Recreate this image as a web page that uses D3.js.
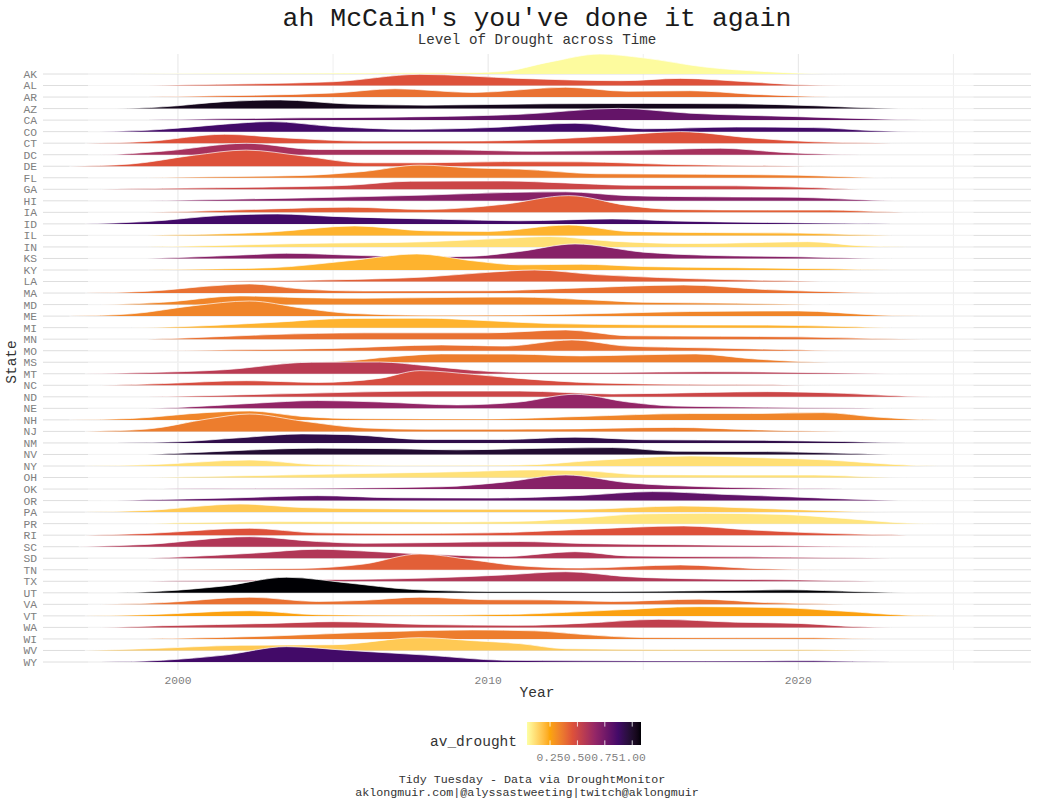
<!DOCTYPE html>
<html>
<head>
<meta charset="utf-8">
<title>ah McCain's you've done it again</title>
<script src="https://cdn.jsdelivr.net/npm/d3@7"></script>
<style>
body { margin: 0; background: #fff; }
svg text { font-family: "Liberation Mono", "Courier New", monospace; }
.tick-y, .tick-x { fill: #808080; font-size: 11.3px; }
.axis-title { fill: #333; font-size: 14.5px; }
.ridge { stroke: #fff; stroke-width: 0.8px; }
</style>
</head>
<body>
<svg id="chart" width="1037" height="805"></svg>
<script>
// states, top to bottom
var states = ["AK","AL","AR","AZ","CA","CO","CT","DC","DE","FL","GA","HI","IA","ID","IL","IN",
  "KS","KY","LA","MA","MD","ME","MI","MN","MO","MS","MT","NC","ND","NE","NH","NJ","NM","NV",
  "NY","OH","OK","OR","PA","PR","RI","SC","SD","TN","TX","UT","VA","VT","WA","WI","WV","WY"];

// average drought level per state (fill colour)
var avDrought = [0.05,0.456,0.383,1.038,0.789,0.872,0.456,0.612,0.456,0.352,0.508,0.695,0.425,0.872,0.217,0.115,
  0.695,0.217,0.425,0.383,0.331,0.331,0.217,0.383,0.383,0.352,0.56,0.477,0.508,0.664,0.331,0.352,0.934,0.986,
  0.115,0.11,0.695,0.799,0.165,0.10,0.456,0.581,0.581,0.425,0.581,1.08,0.383,0.258,0.539,0.352,0.165,0.872];

// ridge outline: [year, height in rows]
var ridgeKnots = [
  /*AK*/ [[1998.5,0],[2000,0.05],[2009,0.1],[2010.4,0.2],[2012,1.05],[2013.6,1.73],[2015,1.4],[2017,0.6],[2019,0.2],[2021.5,0]],
  /*AL*/ [[1999,0],[2000,0.05],[2005,0.33],[2007.8,0.97],[2011,0.62],[2014.3,0.42],[2016.2,0.62],[2018.5,0.3],[2020,0.07],[2021.5,0]],
  /*AR*/ [[1999,0],[2000,0.05],[2005,0.35],[2007,0.72],[2009.5,0.4],[2012.5,0.85],[2014.5,0.5],[2016.5,0.55],[2018.5,0.25],[2020.5,0.05],[2021.5,0]],
  /*AZ*/ [[1998,0],[1999.5,0.15],[2001.5,0.6],[2003.3,0.75],[2005.5,0.4],[2008,0.3],[2012,0.42],[2015,0.45],[2018,0.42],[2020.5,0.25],[2022.5,0.05],[2024,0]],
  /*CA*/ [[1999,0],[2000,0.05],[2004,0.2],[2008,0.3],[2011,0.5],[2014.2,1.02],[2016.5,0.6],[2020,0.3],[2022.5,0.1],[2024.5,0]],
  /*CO*/ [[1997.5,0],[1999.5,0.2],[2001.5,0.65],[2003,0.87],[2005,0.45],[2007.5,0.2],[2010,0.35],[2012.8,0.73],[2015,0.25],[2018,0.4],[2020.5,0.35],[2022.5,0.08],[2024,0]],
  /*CT*/ [[1997,0],[1999,0.15],[2001.5,0.77],[2003.5,0.45],[2006,0.18],[2009,0.18],[2012,0.35],[2014,0.65],[2016.2,1.0],[2018.5,0.45],[2020.5,0.12],[2022.5,0.02],[2023.5,0]],
  /*DC*/ [[1997.5,0],[1999.5,0.3],[2002.2,0.99],[2004.5,0.45],[2008,0.45],[2011.5,0.3],[2015,0.4],[2017.5,0.56],[2019.5,0.2],[2021,0.04],[2022,0]],
  /*DE*/ [[1996.5,0],[1998.5,0.2],[2000.5,0.95],[2002.2,1.4],[2004,0.9],[2006,0.3],[2008,0.3],[2010.5,0.4],[2013,0.38],[2016,0.15],[2019,0.05],[2021.5,0]],
  /*FL*/ [[1999,0],[2000,0.05],[2004,0.2],[2006,0.55],[2007.8,1.1],[2009.5,0.85],[2011,0.75],[2013.5,0.35],[2017,0.3],[2020,0.22],[2022,0.05],[2023,0]],
  /*GA*/ [[1997.5,0],[1999.5,0.08],[2003,0.2],[2005.5,0.35],[2007.5,0.7],[2010.5,0.72],[2012.5,0.55],[2014.5,0.35],[2018,0.3],[2020.5,0.15],[2022,0]],
  /*HI*/ [[1999,0],[2000,0.05],[2004,0.25],[2008,0.5],[2011,0.75],[2012.5,0.78],[2014.5,0.45],[2017,0.35],[2020,0.3],[2022,0.1],[2023.5,0]],
  /*IA*/ [[1999,0],[2000,0.05],[2003,0.3],[2005.5,0.45],[2008,0.25],[2010.5,0.7],[2012.6,1.45],[2014.5,0.6],[2016,0.25],[2019,0.2],[2021,0.2],[2022.8,0.05],[2024,0]],
  /*ID*/ [[1997,0],[1999,0.2],[2001.5,0.75],[2003.2,0.86],[2005,0.65],[2008.5,0.4],[2011,0.27],[2014,0.43],[2016,0.25],[2019,0.12],[2021.5,0.05],[2023,0]],
  /*IL*/ [[1999,0],[2000,0.05],[2003,0.3],[2005.7,0.82],[2008,0.4],[2010,0.35],[2012.6,0.9],[2014.5,0.35],[2017,0.25],[2020,0.2],[2022,0.05],[2023,0]],
  /*IN*/ [[1999,0],[2000,0.05],[2004,0.3],[2008,0.45],[2010.5,0.75],[2012,0.9],[2014,0.5],[2016.5,0.3],[2019,0.4],[2020.3,0.46],[2022,0.1],[2023.5,0]],
  /*KS*/ [[1999,0],[2000,0.08],[2002.5,0.35],[2003.5,0.45],[2006,0.25],[2008,0.15],[2009.5,0.2],[2011,0.6],[2012.8,1.26],[2015,0.55],[2017,0.28],[2020,0.15],[2022,0.03],[2023,0]],
  /*KY*/ [[1999,0],[2000,0.05],[2003,0.2],[2005.5,0.8],[2007.7,1.39],[2009.5,0.8],[2011,0.45],[2013,0.5],[2015,0.3],[2018,0.2],[2021,0.1],[2023,0]],
  /*LA*/ [[1999.5,0],[2001,0.03],[2005,0.15],[2008,0.4],[2010,0.8],[2011.5,1.0],[2013.5,0.6],[2015.5,0.35],[2018,0.15],[2020,0.05],[2021.5,0]],
  /*MA*/ [[1997,0],[1999,0.15],[2001.5,0.7],[2002.3,0.79],[2004,0.35],[2006,0.18],[2010,0.2],[2012.5,0.4],[2016.3,0.7],[2019,0.3],[2021.5,0.08],[2023.5,0]],
  /*MD*/ [[1997.5,0],[1999.5,0.2],[2002,0.75],[2004,0.6],[2006,0.55],[2009,0.63],[2011,0.65],[2013,0.45],[2015,0.2],[2018,0.12],[2020,0.03],[2021,0]],
  /*ME*/ [[1996.5,0],[1998.5,0.2],[2000.5,0.9],[2002.3,1.31],[2004,0.7],[2005.5,0.25],[2008,0.08],[2011,0.1],[2014,0.25],[2016.5,0.4],[2020,0.45],[2022.5,0.1],[2024,0]],
  /*MI*/ [[1998.5,0],[2000,0.08],[2003,0.45],[2005.5,0.8],[2008,0.82],[2010,0.6],[2012,0.35],[2015,0.25],[2019,0.22],[2021.5,0.1],[2023,0]],
  /*MN*/ [[1999,0],[2000,0.08],[2003,0.4],[2006,0.55],[2010,0.55],[2012.5,0.8],[2014.5,0.3],[2017.5,0.25],[2020,0.2],[2022.5,0.05],[2024,0]],
  /*MO*/ [[1999.5,0],[2001,0.05],[2005,0.2],[2008.5,0.5],[2010.5,0.4],[2012.7,0.93],[2014.5,0.4],[2017,0.25],[2019.5,0.1],[2021.5,0]],
  /*MS*/ [[2003.5,0],[2005,0.05],[2007,0.5],[2008.5,0.72],[2011,0.7],[2013,0.55],[2015,0.65],[2016.7,0.72],[2018.5,0.3],[2020.5,0.03],[2021.5,0]],
  /*MT*/ [[1997,0],[1999,0.1],[2001.5,0.35],[2004.3,1.0],[2006.5,1.02],[2008,0.7],[2009.5,0.3],[2011,0.12],[2014,0.12],[2017,0.18],[2020,0.12],[2022.5,0.03],[2023.5,0]],
  /*NC*/ [[1997.5,0],[1999.5,0.15],[2002.2,0.4],[2004.5,0.25],[2006.5,0.6],[2007.8,1.27],[2009.5,0.95],[2011,0.6],[2013.5,0.2],[2016.5,0.08],[2019.5,0.03],[2021,0]],
  /*ND*/ [[1999,0],[2000,0.05],[2004,0.3],[2008,0.5],[2011,0.5],[2014,0.25],[2017,0.38],[2019,0.45],[2021.5,0.3],[2023.5,0.05],[2025,0]],
  /*NE*/ [[1999,0],[2000,0.08],[2002.5,0.45],[2004.5,0.68],[2006.5,0.55],[2009,0.3],[2011,0.55],[2012.8,1.22],[2014.5,0.55],[2016,0.2],[2019,0.1],[2022,0.03],[2023,0]],
  /*NH*/ [[1996.5,0],[1998.5,0.12],[2001,0.65],[2002.3,0.77],[2004,0.3],[2006,0.1],[2010,0.08],[2013,0.3],[2016.5,0.55],[2018.5,0.55],[2020.8,0.63],[2022.5,0.25],[2024.5,0]],
  /*NJ*/ [[1997,0],[1999,0.2],[2001,1.1],[2002.3,1.51],[2004,0.9],[2006,0.3],[2008,0.18],[2012,0.2],[2016,0.35],[2018.5,0.15],[2020.5,0.03],[2021.5,0]],
  /*NM*/ [[1998,0],[2000,0.1],[2002,0.45],[2004,0.78],[2005.5,0.72],[2008,0.3],[2010.5,0.3],[2012.8,0.5],[2015,0.28],[2019,0.22],[2021.5,0.12],[2023.5,0]],
  /*NV*/ [[1999,0],[2000,0.1],[2002,0.35],[2004.5,0.55],[2007,0.5],[2009,0.4],[2011,0.5],[2014,0.6],[2016,0.28],[2019,0.25],[2021.5,0.1],[2023,0]],
  /*NY*/ [[1997,0],[1999,0.1],[2002.3,0.52],[2004.5,0.12],[2007,0.05],[2011,0.08],[2013.5,0.5],[2016.5,0.87],[2019,0.7],[2021,0.52],[2023,0.15],[2024.5,0]],
  /*OH*/ [[1999,0],[2000,0.05],[2003,0.2],[2006,0.35],[2009,0.5],[2011.5,0.66],[2013,0.6],[2015,0.25],[2018,0.22],[2020.5,0.22],[2022.5,0.05],[2023.5,0]],
  /*OK*/ [[1999,0],[2000,0.03],[2005,0.08],[2008.5,0.2],[2010.5,0.6],[2012.5,1.22],[2014.5,0.55],[2017,0.2],[2020,0.05],[2021.5,0]],
  /*OR*/ [[1997.5,0],[1999.5,0.1],[2002,0.25],[2004.5,0.43],[2007,0.25],[2010,0.22],[2013,0.45],[2015.3,0.78],[2017.5,0.55],[2020,0.3],[2022.5,0.06],[2024,0]],
  /*PA*/ [[1997,0],[1999,0.15],[2002,0.7],[2004,0.4],[2006,0.3],[2010,0.25],[2013,0.25],[2016.2,0.53],[2018.5,0.35],[2021,0.12],[2023,0]],
  /*PR*/ [[1999,0],[2000,0.08],[2004,0.18],[2009,0.15],[2011,0.2],[2013,0.5],[2015,0.85],[2017,0.9],[2019.5,0.8],[2021.5,0.45],[2023.5,0.05],[2024.5,0]],
  /*RI*/ [[1997,0],[1999,0.15],[2002.3,0.6],[2004.5,0.2],[2007,0.15],[2010,0.2],[2013,0.5],[2016.3,0.8],[2018.5,0.45],[2020.5,0.2],[2022.5,0.05],[2023.5,0]],
  /*SC*/ [[1996.8,0],[1999,0.2],[2002.3,0.87],[2004.5,0.45],[2006,0.3],[2008,0.35],[2011,0.45],[2013,0.28],[2016,0.18],[2019.5,0.08],[2022.5,0]],
  /*SD*/ [[1999,0],[2000,0.1],[2002.5,0.45],[2004.5,0.78],[2006.5,0.55],[2008.5,0.3],[2010.5,0.15],[2012.8,0.57],[2014.5,0.2],[2018,0.12],[2021.5,0.05],[2023,0]],
  /*TN*/ [[1999,0],[2000,0.03],[2004,0.12],[2006,0.5],[2007.8,1.37],[2009.5,0.85],[2011,0.35],[2013,0.15],[2016.2,0.42],[2018.5,0.12],[2021,0]],
  /*TX*/ [[1999,0],[2000,0.05],[2004,0.12],[2008,0.28],[2010.5,0.55],[2012.5,0.83],[2014.5,0.4],[2017,0.2],[2020,0.12],[2022,0.03],[2023,0]],
  /*UT*/ [[1998,0],[1999.5,0.15],[2001.5,0.6],[2003.5,1.35],[2005.5,0.85],[2007.5,0.3],[2010,0.12],[2014,0.12],[2017,0.18],[2019.7,0.26],[2022,0.1],[2024,0]],
  /*VA*/ [[1997.5,0],[1999.5,0.15],[2002.3,0.62],[2004.5,0.25],[2006,0.35],[2007.8,0.62],[2010,0.4],[2012,0.38],[2014,0.25],[2016.8,0.45],[2019,0.15],[2021,0.03],[2022,0]],
  /*VT*/ [[1997,0],[1999,0.1],[2002.3,0.45],[2004.5,0.1],[2007.5,0.05],[2011,0.15],[2014,0.5],[2016.8,0.8],[2019.5,0.7],[2021.5,0.4],[2023.5,0.05],[2024.5,0]],
  /*WA*/ [[1997.5,0],[1999.5,0.15],[2003,0.35],[2005,0.5],[2008,0.25],[2011,0.18],[2013,0.35],[2015.5,0.7],[2018,0.45],[2020,0.35],[2022,0.05],[2023,0]],
  /*WI*/ [[1999,0],[2000,0.05],[2003,0.25],[2006.5,0.62],[2009.5,0.78],[2011.5,0.7],[2013,0.4],[2015,0.12],[2018,0.1],[2020.5,0.1],[2022.5,0]],
  /*WV*/ [[1997,0],[1999,0.15],[2002,0.45],[2005,0.5],[2007.8,1.11],[2009.5,0.85],[2011,0.6],[2012.5,0.15],[2016,0.08],[2020,0.08],[2022.5,0]],
  /*WY*/ [[1997.5,0],[1999.5,0.15],[2001.5,0.6],[2003.5,1.33],[2005.5,1.0],[2008,0.6],[2010.5,0.15],[2013,0.1],[2017,0.08],[2020.5,0.1],[2023,0]]
];

var xTicks = [2000, 2010, 2020];
var xMinorTicks = [2005, 2015, 2025];
var legendTicks = [0.25, 0.5, 0.75, 1.0];
var fillLimits = [0.04, 1.08];
var densityRange = [1997.1, 2025.65];
// inferno, six anchor colours, light to dark
var palette = ["#FCFFA4", "#FCA50A", "#DD513A", "#932667", "#420A68", "#000004"];

var svg = d3.select("#chart");

var x = d3.scaleLinear().domain([1995.65, 2027.5]).range([43, 1031]);
var y = d3.scalePoint().domain(states).range([74, 662]);
var step = y.step();

var fill = d3.scaleLinear()
    .domain(d3.range(6).map(function(i) { return fillLimits[0] + i * (fillLimits[1] - fillLimits[0]) / 5; }))
    .range(palette)
    .interpolate(d3.interpolateLab)
    .clamp(true);

// grid
var grid = svg.append("g");
grid.selectAll(".vx")
    .data(xTicks.concat(xMinorTicks))
  .enter().append("line")
    .attr("x1", function(d) { return x(d); })
    .attr("x2", function(d) { return x(d); })
    .attr("y1", 54).attr("y2", 670)
    .attr("stroke", function(d) { return xTicks.indexOf(d) >= 0 ? "#e6e6e6" : "#efefef"; })
    .attr("stroke-width", 1);

grid.selectAll(".hy")
    .data(states)
  .enter().append("line")
    .attr("x1", 43).attr("x2", 1031)
    .attr("y1", function(d) { return y(d); })
    .attr("y2", function(d) { return y(d); })
    .attr("stroke", "#dedede")
    .attr("stroke-width", 1);

// ridges, top row first so lower rows overlap
var ridges = svg.append("g");
states.forEach(function(s, i) {
  var base = y(s);
  var pts = ridgeKnots[i].slice();
  if (pts[0][0] > densityRange[0]) pts.unshift([densityRange[0], 0]);
  if (pts[pts.length - 1][0] < densityRange[1]) pts.push([densityRange[1], 0]);

  var area = d3.area()
      .x(function(d) { return x(d[0]); })
      .y0(base)
      .y1(function(d) { return base - d[1] * step; })
      .curve(d3.curveMonotoneX);
  var line = d3.line()
      .x(function(d) { return x(d[0]); })
      .y(function(d) { return base - d[1] * step; })
      .curve(d3.curveMonotoneX);

  var g = ridges.append("g");
  g.append("path")
      .attr("d", area(pts))
      .attr("fill", fill(avDrought[i]));
  g.append("path")
      .attr("class", "ridge")
      .attr("d", line(pts))
      .attr("fill", "none")
      .attr("stroke-opacity", 0.85);
});

// y axis labels
svg.append("g").selectAll("text")
    .data(states)
  .enter().append("text")
    .attr("class", "tick-y")
    .attr("x", 37)
    .attr("y", function(d) { return y(d); })
    .attr("dy", "0.35em")
    .attr("text-anchor", "end")
    .text(function(d) { return d; });

// x axis labels
svg.append("g").selectAll("text")
    .data(xTicks)
  .enter().append("text")
    .attr("class", "tick-x")
    .attr("x", function(d) { return x(d); })
    .attr("y", 684)
    .attr("text-anchor", "middle")
    .text(function(d) { return d; });

svg.append("text").attr("class", "axis-title")
    .attr("x", 537).attr("y", 697)
    .attr("text-anchor", "middle")
    .text("Year");

svg.append("text").attr("class", "axis-title")
    .attr("transform", "translate(16,362) rotate(-90)")
    .attr("text-anchor", "middle")
    .text("State");

// titles
svg.append("text")
    .attr("x", 537).attr("y", 26)
    .attr("text-anchor", "middle")
    .style("font-size", "26.5px")
    .attr("fill", "#1a1a1a")
    .text("ah McCain's you've done it again");

svg.append("text")
    .attr("x", 537).attr("y", 44)
    .attr("text-anchor", "middle")
    .style("font-size", "14.2px")
    .attr("fill", "#333")
    .text("Level of Drought across Time");

// legend
var lx = d3.scaleLinear().domain(fillLimits).range([527, 641]);
var defs = svg.append("defs");
var grad = defs.append("linearGradient").attr("id", "leg-grad")
    .attr("x1", "0%").attr("x2", "100%").attr("y1", "0%").attr("y2", "0%");
d3.range(0, 1.0001, 0.02).forEach(function(t) {
  grad.append("stop")
      .attr("offset", (t * 100) + "%")
      .attr("stop-color", fill(lx.invert(527 + t * 114)));
});

var legend = svg.append("g");
legend.append("rect")
    .attr("x", 527).attr("y", 722)
    .attr("width", 114).attr("height", 23)
    .attr("fill", "url(#leg-grad)");

legendTicks.forEach(function(v) {
  legend.append("line")
      .attr("x1", lx(v)).attr("x2", lx(v))
      .attr("y1", 722).attr("y2", 726.6)
      .attr("stroke", "#fff").attr("stroke-width", 0.8);
  legend.append("line")
      .attr("x1", lx(v)).attr("x2", lx(v))
      .attr("y1", 740.4).attr("y2", 745)
      .attr("stroke", "#fff").attr("stroke-width", 0.8);
  legend.append("text")
      .attr("class", "tick-x")
      .attr("fill", "#4d4d4d")
      .attr("x", lx(v)).attr("y", 761)
      .attr("text-anchor", "middle")
      .text(d3.format(".2f")(v));
});

legend.append("text").attr("class", "axis-title")
    .attr("x", 517).attr("y", 746)
    .attr("text-anchor", "end")
    .text("av_drought");

// caption
svg.append("text")
    .attr("x", 532).attr("y", 783)
    .attr("text-anchor", "middle")
    .style("font-size", "11.7px")
    .attr("fill", "#333")
    .text("Tidy Tuesday - Data via DroughtMonitor");

svg.append("text")
    .attr("x", 527).attr("y", 796)
    .attr("text-anchor", "middle")
    .style("font-size", "11.7px")
    .attr("fill", "#333")
    .text("aklongmuir.com|@alyssastweeting|twitch@aklongmuir");
</script>
</body>
</html>
